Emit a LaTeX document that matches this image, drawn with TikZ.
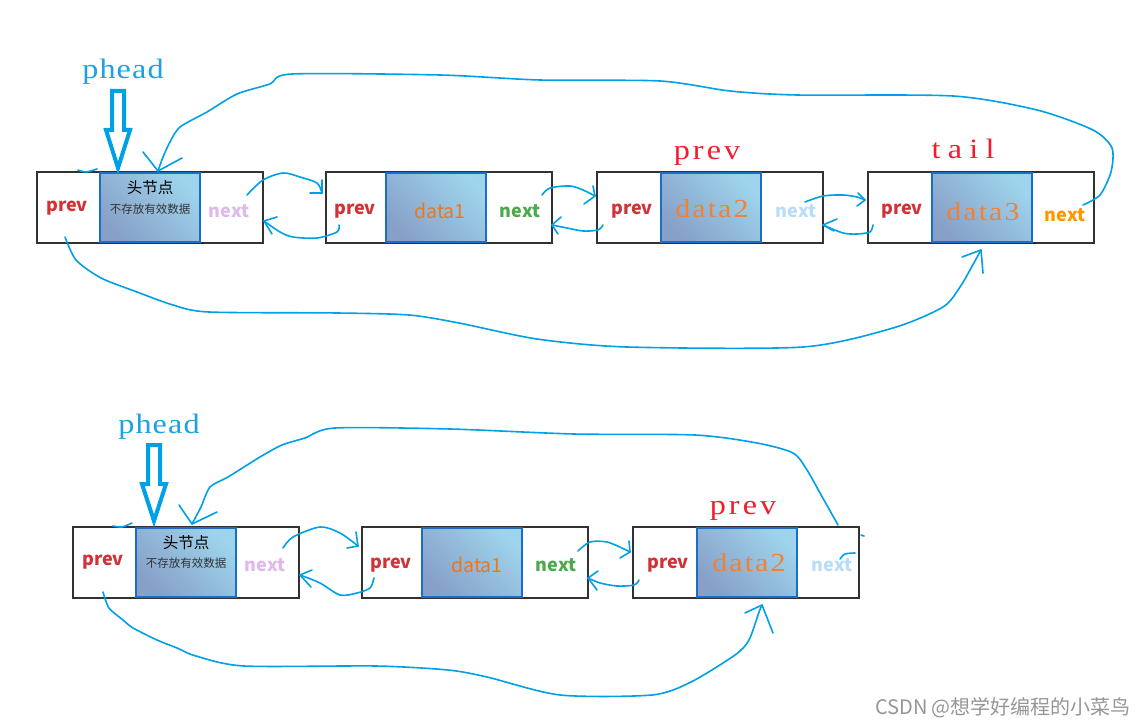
\documentclass[tikz,border=0pt]{standalone}
\usepackage{fontspec}
\setmainfont{Liberation Serif}
\newfontfamily\cjk{Noto Sans CJK SC}
\newfontfamily\sphead{Liberation Serif}[FakeStretch=1.15, LetterSpace=4]
\newfontfamily\sprev{Liberation Serif}[FakeStretch=1.15, LetterSpace=11]
\newfontfamily\stail{Liberation Serif}[FakeStretch=1.15, LetterSpace=26]
\newfontfamily\sdata{Liberation Serif}[FakeStretch=1.15, LetterSpace=8]
\definecolor{boxc}{RGB}{50,50,50}
\definecolor{blueb}{RGB}{25,110,200}
\definecolor{gdark}{RGB}{135,160,200}
\definecolor{glight}{RGB}{158,212,236}
\definecolor{cy}{RGB}{0,160,230}
\definecolor{phc}{RGB}{30,160,225}
\definecolor{prevred}{RGB}{210,50,55}
\definecolor{lblred}{RGB}{240,30,45}
\definecolor{nextpurple}{RGB}{222,185,236}
\definecolor{orangea}{RGB}{235,120,30}
\definecolor{orangeb}{RGB}{240,130,55}
\definecolor{nextgreen}{RGB}{75,170,75}
\definecolor{nextblue}{RGB}{185,220,250}
\definecolor{nextorange}{RGB}{255,150,0}
\definecolor{wm}{RGB}{150,150,150}
\tikzset{
  cell/.style={draw=boxc, line width=2pt, minimum width=226pt, minimum height=71pt, inner sep=0pt},
  datab/.style={draw=blueb, line width=2pt, minimum width=100pt, minimum height=69pt, inner sep=0pt,
     top color=gdark, bottom color=glight, shading angle=135},
  fld/.style={font=\cjk\bfseries\fontsize{18}{20}\selectfont, inner sep=0pt},
  dsans/.style={font=\cjk\fontsize{19.5}{21}\selectfont, inner sep=0pt, text=orangea},
  dserif/.style={font=\sdata\fontsize{26}{28}\selectfont, inner sep=0pt, text=orangeb},
  tag/.style={font=\fontsize{28}{30}\selectfont, inner sep=0pt, anchor=base},
  conn/.style={draw=cy, line width=1.6pt, line cap=round, line join=round},
  bigarrow/.style={draw=cy, line width=4pt, line join=miter, fill=white},
}
\begin{document}
\begin{tikzpicture}[x=1pt, y=-1pt]
\useasboundingbox[fill=white] (0,0) rectangle (1143,727);

% ---------- top row ----------
\node[cell] (A) at (150,207.5) {};
\node[datab] (Ad) at (150,207.5) {};
\node[cell] (B) at (439,207.5) {};
\node[datab] (Bd) at (435.5,207.5) {};
\node[cell] (C) at (710,207.5) {};
\node[datab] (Cd) at (711,207.5) {};
\node[cell] (D) at (981,207.5) {};
\node[datab] (Dd) at (982,207.5) {};

\node[font=\cjk\fontsize{15.5}{17}\selectfont, inner sep=0pt] (Ah1) at (150,188) {头节点};
\node[font=\cjk\fontsize{11.5}{13}\selectfont, text=black!80, inner sep=0pt] (Ah2) at (150,209) {不存放有效数据};
\node[fld, text=prevred] (Ap) at (67,208) {prev};
\node[fld, text=nextpurple] (An) at (229,211) {next};
\node[fld, text=prevred] (Bp) at (355,211) {prev};
\node[dsans] (Bdt) at (440,211) {data1};
\node[fld, text=nextgreen] (Bn) at (520,211) {next};
\node[fld, text=prevred] (Cp) at (632,211) {prev};
\node[dserif] (Cdt) at (712,209) {data2};
\node[fld, text=nextblue] (Cn) at (796,211) {next};
\node[fld, text=prevred] (Dp) at (902,211) {prev};
\node[dserif] (Ddt) at (983,212) {data3};
\node[fld, text=nextorange] (Dn) at (1065,215) {next};

\node[tag, font=\sphead\fontsize{28}{30}\selectfont, text=phc] (ph1) at (123,79) {phead};
\node[tag, font=\sprev\fontsize{28}{30}\selectfont, text=lblred] (lp1) at (707,160) {prev};
\node[tag, font=\stail\fontsize{28}{30}\selectfont, text=lblred] (lt1) at (963,159) {tail};

% hollow arrow phead -> head
\draw[bigarrow] (112,91) -- (124,91) -- (124,130) -- (130,130) -- (118,168) -- (106,130) -- (112,130) -- cycle;

% small links top row
\coordinate (t1) at (322,193);
\draw[conn] plot[smooth] coordinates {(247,195) (263,180) (283,173) (300,177) (317,183) (t1)};
\draw[conn] (310,193) -- (t1) -- (322,180);

\coordinate (t2) at (264,221);
\draw[conn] plot[smooth] coordinates {(339,225) (337,232) (317,238) (293,237) (280,232) (t2)};
\draw[conn] (277,217) -- (t2) -- (272,234);

\coordinate (t3) at (595,196);
\draw[conn] plot[smooth] coordinates {(542,195) (550,188) (570,186) (583,190) (t3)};
\draw[conn] (584,204) -- (t3) -- (593,186);

\coordinate (t4) at (552,225);
\draw[conn] plot[smooth] coordinates {(603,225) (598,230) (583,231) (567,228) (t4)};
\draw[conn] (561,217) -- (t4) -- (558,234);

\coordinate (t5) at (865,200);
\draw[conn] plot[smooth] coordinates {(805,202) (823,196) (843,195) (857,197) (t5)};
\draw[conn] (858,193) -- (t5) -- (857,206);

\coordinate (t6) at (823,225);
\draw[conn] plot[smooth] coordinates {(873,225) (870,232) (857,234) (843,233) (t6)};
\draw[conn] (837,219) -- (t6) -- (834,231);

% big loop: tail next -> head (top)
\coordinate (t7) at (158,171);
\draw[conn] plot[smooth, tension=0.45] coordinates {(1083,205) (1100,195) (1111,172) (1112,148) (1093,130) (1037,110) (953,96) (797,95) (730,91) (660,81) (540,80) (440,75) (292,74) (270,84) (237,94) (207,112) (180,127) (170,142) (163,157) (t7)};
\draw[conn] (143,152) -- (t7) -- (182,158);

% big loop: head prev -> tail (bottom)
\coordinate (t8) at (981,250);
\draw[conn] plot[smooth, tension=0.45] coordinates {(65,237) (76,260) (101,278) (137,292) (173,305) (209,312) (337,313) (409,315) (459,323) (537,339) (627,347) (803,347) (893,328) (943,307) (960,287) (970,270) (t8)};
\draw[conn] (962,257) -- (t8) -- (983,273);

% stray marks
\draw[conn] plot[smooth] coordinates {(78,170) (86,172) (97,169)};

% ---------- bottom row ----------
\node[cell] (A2) at (186,562) {};
\node[datab] (A2d) at (186,562) {};
\node[cell] (B2) at (475,562) {};
\node[datab] (B2d) at (472,562) {};
\node[cell] (C2) at (746,562) {};
\node[datab] (C2d) at (747,562) {};

\node[font=\cjk\fontsize{15.5}{17}\selectfont, inner sep=0pt] (A2h1) at (186,543) {头节点};
\node[font=\cjk\fontsize{11.5}{13}\selectfont, text=black!80, inner sep=0pt] (A2h2) at (186,563) {不存放有效数据};
\node[fld, text=prevred] (A2p) at (103,562) {prev};
\node[fld, text=nextpurple] (A2n) at (265,565) {next};
\node[fld, text=prevred] (B2p) at (391,565) {prev};
\node[dsans] (B2dt) at (477,565) {data1};
\node[fld, text=nextgreen] (B2n) at (556,565) {next};
\node[fld, text=prevred] (C2p) at (668,565) {prev};
\node[dserif] (C2dt) at (749,563) {data2};
\node[fld, text=nextblue] (C2n) at (832,565) {next};

\node[tag, font=\sphead\fontsize{28}{30}\selectfont, text=phc] (ph2) at (159,433) {phead};
\node[tag, font=\sprev\fontsize{28}{30}\selectfont, text=lblred] (lp2) at (743,514) {prev};

\draw[bigarrow] (148,445) -- (160,445) -- (160,484) -- (166,484) -- (154,521) -- (142,484) -- (148,484) -- cycle;

\coordinate (u1) at (358,546);
\draw[conn] plot[smooth] coordinates {(283,548) (293,537) (320,527) (340,533) (u1)};
\draw[conn] (347,548) -- (u1) -- (356,532);

\coordinate (u2) at (300,575);
\draw[conn] plot[smooth] coordinates {(374,578) (370,588) (357,593) (340,595) (320,583) (u2)};
\draw[conn] (312,570) -- (u2) -- (311,587);

\coordinate (u3) at (630,552);
\draw[conn] plot[smooth] coordinates {(578,551) (590,542) (607,542) (624,549) (u3)};
\draw[conn] (629,541) -- (u3) -- (620,558);

\coordinate (u4) at (588,578);
\draw[conn] plot[smooth] coordinates {(639,580) (634,585) (617,586) (600,583) (u4)};
\draw[conn] (598,571) -- (u4) -- (597,590);

\coordinate (u5) at (192,524);
\draw[conn] plot[smooth, tension=0.45] coordinates {(838,525) (820,493) (807,470) (793,453) (757,443) (695,435) (574,434) (450,429) (335,428) (305,438) (282,445) (260,457) (228,477) (210,487) (201,507) (u5)};
\draw[conn] (179,505) -- (u5) -- (217,512);

\coordinate (u6) at (762,605);
\draw[conn] plot[smooth, tension=0.45] coordinates {(103,592) (109,608) (123,620) (133,628) (157,640) (177,648) (196,656) (244,666) (376,666) (448,670) (487,677) (560,695) (652,695) (691,682) (735,655) (749,640) (759,612) (u6)};
\draw[conn] (745,613) -- (u6) -- (773,633);

\draw[conn] plot[smooth] coordinates {(113,526) (122,527) (132,523)};
\draw[conn] plot[smooth] coordinates {(840,559) (845,554) (855,553)};
\draw[conn] (861,535) -- (864,536);

\node[font=\cjk\fontsize{20}{22}\selectfont, text=wm, inner sep=0pt] (wmk) at (1003,708) {CSDN @想学好编程的小菜鸟};
\end{tikzpicture}
\end{document}
